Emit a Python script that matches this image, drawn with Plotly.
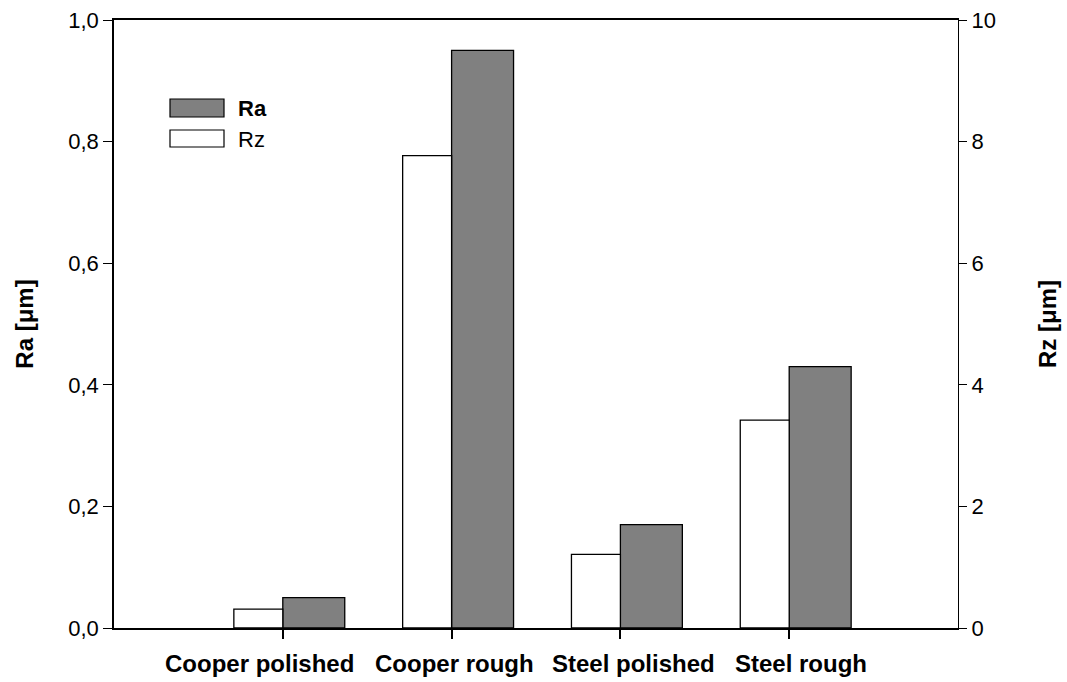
import plotly.graph_objects as go

categories = ["Cooper polished", "Cooper rough", "Steel polished", "Steel rough"]
ra_values = [0.05, 0.95, 0.17, 0.43]      # left axis, µm
rz_values = [0.31, 7.77, 1.21, 3.42]      # right axis, µm
ra_ticks = [0.0, 0.2, 0.4, 0.6, 0.8, 1.0]
rz_ticks = [0, 2, 4, 6, 8, 10]

FONT = "Liberation Sans, Arial, sans-serif"

# plot area in pixels
W, H = 1067, 682
L, R, T, B = 114, 958, 20, 628

def px_x(x):
    return (x - L) / (R - L)

def px_y(y):
    return (B - y) / (B - T)

fig = go.Figure()

fig.add_trace(go.Bar(
    x=categories, y=ra_values, name="Ra", yaxis="y",
    offset=0.0, width=0.367,
    marker=dict(color="#808080", line=dict(color="#000000", width=1.3)),
    showlegend=False,
))
fig.add_trace(go.Bar(
    x=categories, y=rz_values, name="Rz", yaxis="y2",
    offset=-0.29, width=0.29,
    marker=dict(color="#ffffff", line=dict(color="#000000", width=1.3)),
    showlegend=False,
))

# hand-built legend (wide rectangular swatches as in the reference)
shapes = [
    dict(type="rect", xref="paper", yref="paper",
         x0=px_x(170), x1=px_x(224), y0=px_y(117), y1=px_y(99),
         fillcolor="#808080", line=dict(color="#000000", width=1.2)),
    dict(type="rect", xref="paper", yref="paper",
         x0=px_x(170), x1=px_x(224), y0=px_y(147), y1=px_y(130),
         fillcolor="#ffffff", line=dict(color="#000000", width=1.2)),
]
annotations = [
    dict(text="<b>Ra</b>", xref="paper", yref="paper", x=px_x(236), y=px_y(108),
         xanchor="left", yanchor="middle", showarrow=False,
         font=dict(family=FONT, size=22, color="#000")),
    dict(text="Rz", xref="paper", yref="paper", x=px_x(236), y=px_y(139),
         xanchor="left", yanchor="middle", showarrow=False,
         font=dict(family=FONT, size=22, color="#000")),
]

# category labels (placed as in the reference, slightly off-centre)
label_shift = [-23, 3, 13, 12]
for cat, dx in zip(categories, label_shift):
    annotations.append(dict(
        text=f"<b>{cat}</b>", xref="x", yref="paper", x=cat, y=px_y(663),
        xanchor="center", yanchor="middle", xshift=dx, showarrow=False,
        font=dict(family=FONT, size=24, color="#000"),
    ))

fig.update_layout(
    width=W, height=H,
    margin=dict(l=L, r=W - R, t=T, b=H - B, pad=0),
    paper_bgcolor="white", plot_bgcolor="white",
    barmode="overlay",
    separators=",.",
    font=dict(family=FONT, size=22, color="#000"),
    shapes=shapes, annotations=annotations,
    xaxis=dict(
        type="category", range=[-1, 4], automargin=False,
        showgrid=False, zeroline=False,
        showline=True, linecolor="#000", linewidth=2, mirror=True,
        ticks="outside", ticklen=9, tickwidth=1.5, tickcolor="#000",
        showticklabels=False,
    ),
    yaxis=dict(
        range=[0, 1.0], tickvals=ra_ticks, tickformat=".1f", automargin=False,
        showgrid=False, zeroline=False,
        showline=True, linecolor="#000", linewidth=1.5,
        ticks="outside", ticklen=9, tickwidth=1.2, tickcolor="#000",
        tickfont=dict(family=FONT, size=22, color="#000"),
        title=dict(text="<b>Ra [μm]</b>", font=dict(family=FONT, size=24, color="#000"),
                   standoff=28),
    ),
    yaxis2=dict(
        range=[0, 10], tickvals=rz_ticks, overlaying="y", side="right", automargin=False,
        showgrid=False, zeroline=False,
        showline=True, linecolor="#000", linewidth=1.2,
        ticks="outside", ticklen=8, tickwidth=1.2, tickcolor="#000",
        tickfont=dict(family=FONT, size=22, color="#000"),
        title=dict(text="<b>Rz [μm]</b>", font=dict(family=FONT, size=24, color="#000"),
                   standoff=44),
    ),
)

fig.write_html("out.html")
